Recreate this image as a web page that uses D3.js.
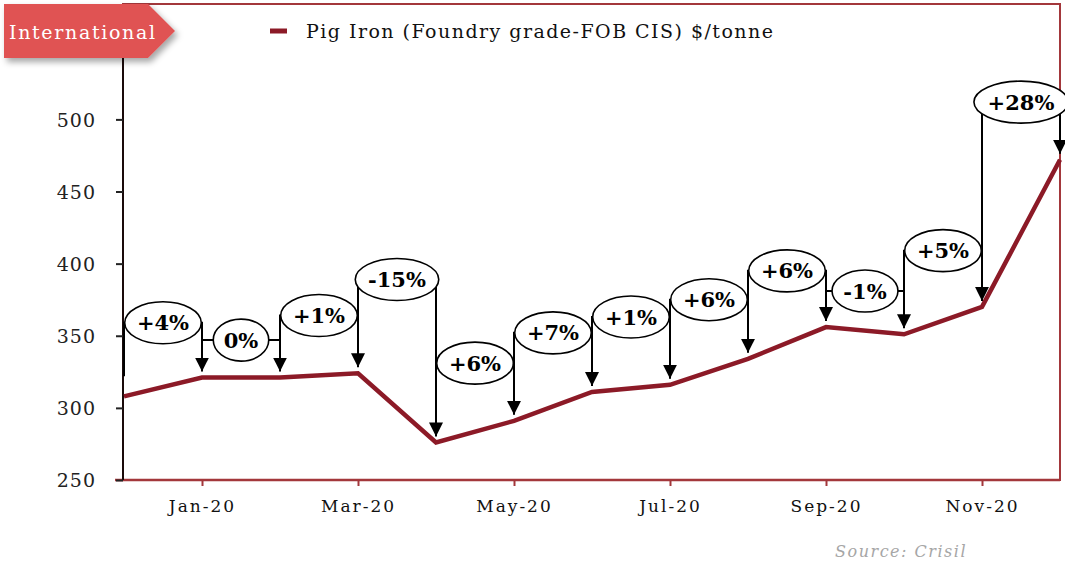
<!DOCTYPE html>
<html>
<head>
<meta charset="utf-8">
<script src="https://cdn.jsdelivr.net/npm/d3@7"></script>
<style>
  body { margin: 0; background: #fff; }
  svg { display: block; }
</style>
</head>
<body>
<script>
// monthly pig iron price, Dec-19 .. Dec-20
var months = ["Dec-19", "Jan-20", "Feb-20", "Mar-20", "Apr-20", "May-20", "Jun-20",
              "Jul-20", "Aug-20", "Sep-20", "Oct-20", "Nov-20", "Dec-20"];
var prices = [308, 321, 321, 324, 276, 291, 311, 316, 334, 356, 351, 370, 472];

// month-on-month change labels and the level (in $/t) where each callout sits
var changes = ["+4%", "0%", "+1%", "-15%", "+6%", "+7%", "+1%", "+6%", "+6%", "-1%", "+5%", "+28%"];
var calloutLevel = [359, 347, 364, 389, 331, 352, 363, 375, 395, 381, 409, 512];

var yTicks = [250, 300, 350, 400, 450, 500, 550];
var xLabels = ["Jan-20", "Mar-20", "May-20", "Jul-20", "Sep-20", "Nov-20"];

var width = 1065,
    height = 565;

var lineColor = "#8c1a27",
    frameColor = "#a3373b";

var svg = d3.select("body")
    .append("svg")
    .attr("width", width)
    .attr("height", height);

var defs = svg.append("defs");

defs.append("marker")
    .attr("id", "arrow")
    .attr("viewBox", "0 0 14 14")
    .attr("refX", 14)
    .attr("refY", 7)
    .attr("markerWidth", 14)
    .attr("markerHeight", 14)
    .attr("markerUnits", "userSpaceOnUse")
    .attr("orient", "auto")
    .append("path")
    .attr("d", "M0,0 L14,7 L0,14 Z")
    .attr("fill", "#000");

var shadow = defs.append("filter")
    .attr("id", "shadow")
    .attr("x", "-10%").attr("y", "-20%")
    .attr("width", "130%").attr("height", "160%");
shadow.append("feDropShadow")
    .attr("dx", 3).attr("dy", 4)
    .attr("stdDeviation", 3)
    .attr("flood-color", "#000")
    .attr("flood-opacity", 0.35);

var x = d3.scalePoint()
    .domain(months)
    .range([124, 1060]);

var y = d3.scaleLinear()
    .domain([250, 580])
    .range([480, 4]);

// plot frame
svg.append("rect")
    .attr("x", 123)
    .attr("y", 4)
    .attr("width", 1060 - 123)
    .attr("height", 476)
    .attr("fill", "none")
    .attr("stroke", frameColor)
    .attr("stroke-width", 2);

// x axis
var xAxis = svg.append("g")
    .attr("transform", "translate(0,480)")
    .call(d3.axisBottom(x).tickValues(xLabels).tickSize(6).tickPadding(14));
xAxis.select(".domain").remove();
xAxis.selectAll(".tick line")
    .attr("stroke", frameColor)
    .attr("stroke-width", 2);
xAxis.selectAll(".tick text")
    .attr("fill", "#111")
    .style("font-family", "'DejaVu Serif', serif")
    .style("font-size", "17px")
    .style("letter-spacing", "2px");

svg.append("line")
    .attr("x1", 115).attr("x2", 1060)
    .attr("y1", 480).attr("y2", 480)
    .attr("stroke", frameColor)
    .attr("stroke-width", 2.5);

// y axis
var yAxis = svg.append("g")
    .attr("transform", "translate(123,0)")
    .call(d3.axisLeft(y).tickValues(yTicks).tickSize(7).tickPadding(20));
yAxis.select(".domain")
    .attr("d", "M0,4V480")
    .attr("stroke", "#1a0a0a")
    .attr("stroke-width", 2);
yAxis.selectAll(".tick line")
    .attr("stroke", "#222")
    .attr("stroke-width", 2);
yAxis.selectAll(".tick text")
    .attr("fill", "#222")
    .attr("dy", "0.36em")
    .style("font-family", "'DejaVu Serif', serif")
    .style("font-size", "19px")
    .style("letter-spacing", "1px");

// price line
var line = d3.line()
    .x((d, i) => x(months[i]))
    .y(d => y(d));

svg.append("path")
    .datum(prices)
    .attr("d", line)
    .attr("fill", "none")
    .attr("stroke", lineColor)
    .attr("stroke-width", 4.5)
    .attr("stroke-linejoin", "miter");

// callouts: elbow from previous month up to the level, across, down to this month
var gap = 6;
var callouts = changes.map((c, k) => ({
    label: c,
    x0: x(months[k]),
    x1: x(months[k + 1]),
    y0: y(prices[k]) - gap - 14,
    y1: y(prices[k + 1]) - gap,
    cy: y(calloutLevel[k])
}));

callouts.forEach(d => {
    var g = svg.append("g");
    g.append("path")
        .attr("d", `M${d.x0},${d.y0}V${d.cy}H${d.x1}V${d.y1}`)
        .attr("fill", "none")
        .attr("stroke", "#000")
        .attr("stroke-width", 2)
        .attr("marker-end", "url(#arrow)");
    var cx = (d.x0 + d.x1) / 2;
    var ell = g.append("ellipse")
        .attr("cx", cx)
        .attr("cy", d.cy)
        .attr("ry", 21)
        .attr("fill", "#fff")
        .attr("stroke", "#000")
        .attr("stroke-width", 1.6);
    var t = g.append("text")
        .attr("x", cx)
        .attr("y", d.cy)
        .attr("dy", "0.36em")
        .attr("text-anchor", "middle")
        .style("font-family", "'DejaVu Serif', serif")
        .style("font-weight", "bold")
        .style("font-size", "21px")
        .text(d.label);
    var w = t.node().getComputedTextLength();
    ell.attr("rx", w * 0.6 + 7);
});

// legend
svg.append("line")
    .attr("x1", 270).attr("x2", 287)
    .attr("y1", 31).attr("y2", 31)
    .attr("stroke", lineColor)
    .attr("stroke-width", 5);

svg.append("text")
    .attr("x", 306)
    .attr("y", 38)
    .attr("textLength", 467)
    .attr("lengthAdjust", "spacing")
    .style("font-family", "'DejaVu Serif', serif")
    .style("font-size", "19px")
    .attr("fill", "#111")
    .text("Pig Iron (Foundry grade-FOB CIS) $/tonne");

// "International" tag (covers the 550 label, as in the original)
svg.append("path")
    .attr("d", "M4,4 H148 L175,31 L148,58 H4 Z")
    .attr("fill", "#e05252")
    .attr("filter", "url(#shadow)");

svg.append("text")
    .attr("x", 9)
    .attr("y", 39)
    .attr("textLength", 146)
    .attr("lengthAdjust", "spacing")
    .attr("fill", "#fff")
    .style("font-family", "'DejaVu Serif', serif")
    .style("font-size", "19px")
    .text("International");

// source
svg.append("text")
    .attr("x", 967)
    .attr("y", 557)
    .attr("text-anchor", "end")
    .attr("fill", "#a6a6a6")
    .style("font-family", "'DejaVu Serif', serif")
    .style("font-style", "italic")
    .style("font-size", "16px")
    .style("letter-spacing", "1.5px")
    .text("Source: Crisil");
</script>
</body>
</html>
